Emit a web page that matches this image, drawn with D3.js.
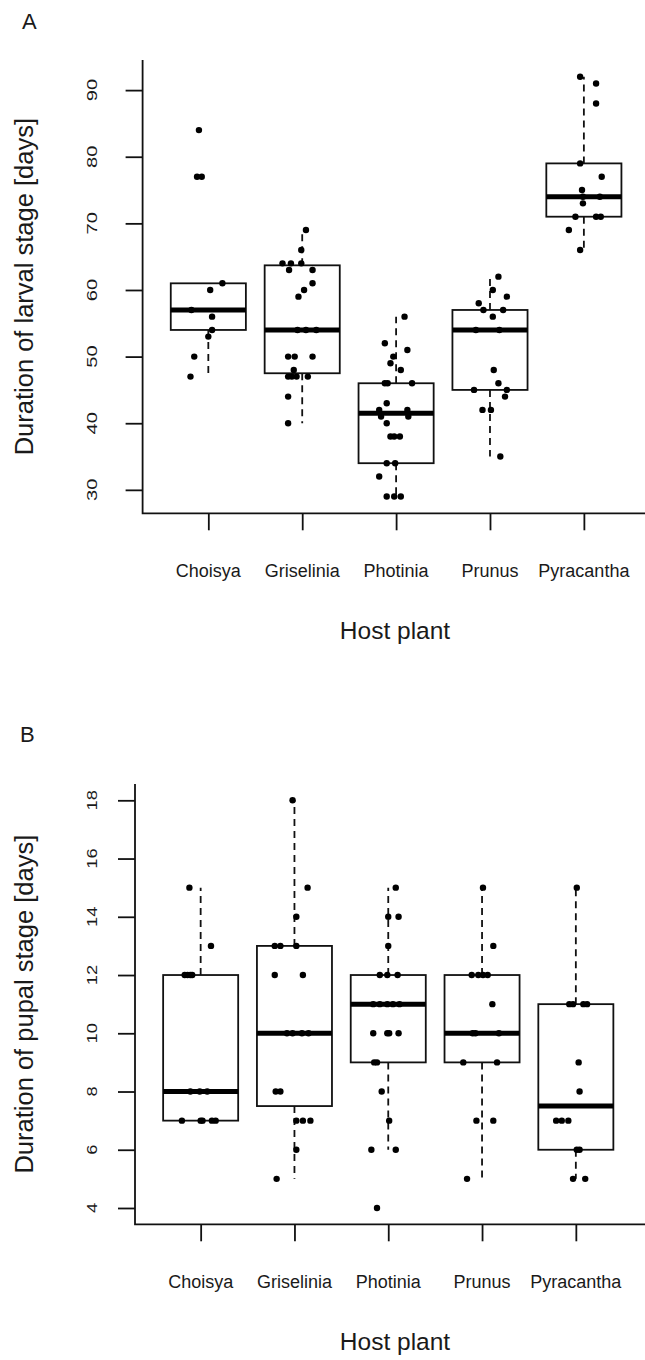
<!DOCTYPE html>
<html>
<head>
<meta charset="utf-8">
<script src="https://cdn.jsdelivr.net/npm/d3@7"></script>
<style>
  html, body { margin: 0; padding: 0; background: #fff; }
  svg { display: block; }
  text { font-family: "Liberation Sans", Arial, sans-serif; fill: #1a1a1a; }
</style>
</head>
<body>
<svg id="chart" width="645" height="1360"></svg>
<script>
// ---------------- DATA ----------------
const categories = ["Choisya", "Griselinia", "Photinia", "Prunus", "Pyracantha"];

// Panel A: duration of larval stage (days)
const larvalTicks = [30, 40, 50, 60, 70, 80, 90];
const larvalQ1 = [54, 47.5, 34, 45, 71];
const larvalMedian = [57, 54, 41.5, 54, 74];
const larvalQ3 = [61, 63.7, 46, 57, 79];
const larvalWhiskerLow = [47, 40, 29, 35, 66];
const larvalWhiskerHigh = [61, 69, 56, 62, 92];
const larvalValues = [
  [84, 77, 77, 61, 60, 57, 56, 54, 53, 50, 47],
  [69, 66, 64, 64, 64, 63, 63, 61, 60, 59, 54, 54, 54, 50, 50, 50, 48, 47, 47, 47, 47, 44, 40],
  [56, 52, 51, 50, 49, 48, 46, 46, 46, 43, 42, 42, 41, 41, 40, 38, 38, 38, 34, 34, 32, 29, 29, 29],
  [62, 60, 59, 58, 57, 57, 56, 54, 54, 48, 46, 45, 45, 44, 42, 42, 35],
  [92, 91, 88, 79, 77, 75, 74, 74, 73, 71, 71, 71, 69, 66]
];
// horizontal jitter of each point, in category units
const larvalJitter = [
  [-0.10, -0.12, -0.07, 0.15, 0.02, -0.18, 0.04, 0.04, 0.00, -0.15, -0.19],
  [0.04, -0.01, -0.21, -0.12, -0.01, -0.14, 0.11, 0.11, 0.02, -0.04, -0.05, 0.04, 0.15, -0.15, -0.08, 0.11, -0.09, -0.15, -0.11, -0.06, 0.06, -0.15, -0.15],
  [0.09, -0.12, 0.12, -0.03, -0.06, 0.05, -0.12, -0.09, 0.17, -0.10, -0.18, 0.12, -0.16, 0.13, -0.10, -0.06, -0.02, 0.04, -0.10, -0.01, -0.18, -0.10, -0.02, 0.05],
  [0.09, 0.03, 0.18, -0.12, -0.07, 0.14, 0.03, -0.15, 0.10, 0.04, 0.09, -0.17, 0.18, 0.16, -0.08, 0.01, 0.11],
  [-0.04, 0.13, 0.13, -0.04, 0.19, -0.02, 0.17, -0.01, -0.01, -0.09, 0.13, 0.18, -0.16, -0.04]
];

// Panel B: duration of pupal stage (days)
const pupalTicks = [4, 6, 8, 10, 12, 14, 16, 18];
const pupalQ1 = [7, 7.5, 9, 9, 6];
const pupalMedian = [8, 10, 11, 10, 7.5];
const pupalQ3 = [12, 13, 12, 12, 11];
const pupalWhiskerLow = [7, 5, 6, 5, 5];
const pupalWhiskerHigh = [15, 18, 15, 15, 15];
const pupalValues = [
  [15, 13, 12, 12, 12, 12, 8, 8, 8, 7, 7, 7, 7, 7],
  [18, 15, 14, 13, 13, 13, 12, 12, 10, 10, 10, 10, 8, 8, 7, 7, 7, 6, 5],
  [15, 14, 14, 13, 12, 12, 12, 11, 11, 11, 11, 11, 10, 10, 10, 10, 9, 9, 8, 7, 6, 6, 4],
  [15, 13, 12, 12, 12, 12, 11, 10, 10, 10, 9, 9, 7, 7, 5],
  [15, 11, 11, 11, 11, 9, 8, 7, 7, 7, 6, 6, 5, 5]
];
const pupalJitter = [
  [-0.12, 0.11, -0.17, -0.14, -0.11, -0.09, -0.11, -0.01, 0.07, -0.20, 0.00, 0.02, 0.12, 0.16],
  [-0.02, 0.14, 0.02, -0.21, -0.15, 0.02, -0.21, 0.09, -0.08, -0.02, 0.08, 0.15, -0.20, -0.15, 0.02, 0.09, 0.17, 0.02, -0.19],
  [0.08, 0.00, 0.11, 0.00, -0.09, -0.01, 0.10, -0.16, -0.09, -0.01, 0.05, 0.12, -0.16, -0.01, 0.01, 0.11, -0.15, -0.12, -0.07, 0.01, -0.18, 0.08, -0.12],
  [0.01, 0.12, -0.11, -0.04, 0.01, 0.06, 0.11, -0.10, -0.07, 0.18, -0.20, 0.16, -0.06, 0.12, -0.16],
  [0.01, -0.07, -0.03, 0.08, 0.12, 0.03, 0.04, -0.21, -0.15, -0.08, 0.01, 0.04, -0.03, 0.10]
];

// ---------------- DRAWING ----------------
const svg = d3.select("#chart");
svg.append("rect").attr("width", 645).attr("height", 1360).attr("fill", "#fff");

function panel(cfg) {
  const g = svg.append("g");
  const x = d3.scaleLinear().domain([0.3, 5.7]).range([cfg.left, cfg.right]);
  const y = d3.scaleLinear().domain(cfg.yDomain).range([cfg.bottom, cfg.top]);
  const lw = 1.8;
  const boxHalf = 0.4;

  // L-shaped frame
  g.append("path")
    .attr("d", `M${cfg.left},${cfg.top}V${cfg.bottom}H${cfg.right + 10}`)
    .attr("fill", "none").attr("stroke", "#111").attr("stroke-width", lw);

  // y axis ticks (d3 axis)
  const yAxis = d3.axisLeft(y).tickValues(cfg.ticks).tickSize(17).tickFormat("");
  const ya = g.append("g").attr("transform", `translate(${cfg.left},0)`).call(yAxis);
  ya.select(".domain").remove();
  ya.selectAll(".tick line").attr("stroke", "#111").attr("stroke-width", lw);

  // y tick labels (rotated, R style)
  g.selectAll(".ylab").data(cfg.ticks).enter().append("text")
    .attr("class", "ylab")
    .attr("transform", d => `translate(97,${y(d)}) scale(1,${cfg.labStretch}) rotate(-90)`)
    .attr("text-anchor", "middle")
    .style("font-size", "15.5px")
    .text(d => d);

  // x axis ticks
  const xAxis = d3.axisBottom(x).tickValues([1, 2, 3, 4, 5]).tickSize(17).tickFormat("");
  const xa = g.append("g").attr("transform", `translate(0,${cfg.bottom})`).call(xAxis);
  xa.select(".domain").remove();
  xa.selectAll(".tick line").attr("stroke", "#111").attr("stroke-width", lw);

  // category labels
  g.selectAll(".xlab").data(categories).enter().append("text")
    .attr("class", "xlab")
    .attr("x", (d, i) => x(i + 1))
    .attr("y", cfg.bottom + 64)
    .attr("text-anchor", "middle")
    .style("font-size", "18px")
    .text(d => d);

  // axis titles
  g.append("text")
    .attr("x", 395).attr("y", cfg.bottom + 126)
    .attr("text-anchor", "middle")
    .style("font-size", "24.5px")
    .text("Host plant");
  g.append("text")
    .attr("transform", `translate(33,${(cfg.top + cfg.bottom) / 2}) rotate(-90)`)
    .attr("text-anchor", "middle")
    .style("font-size", "25.5px")
    .text(cfg.yTitle);

  // panel letter
  g.append("text")
    .attr("x", cfg.letterX).attr("y", cfg.letterY)
    .style("font-size", "22px")
    .text(cfg.letter);

  // boxes
  const idx = d3.range(categories.length);
  const boxes = g.append("g");
  idx.forEach(i => {
    const cx = x(i + 1);
    const x0 = x(i + 1 - boxHalf), x1 = x(i + 1 + boxHalf);
    // whiskers
    if (cfg.wHi[i] > cfg.q3[i]) {
      boxes.append("line").attr("x1", cx).attr("x2", cx)
        .attr("y1", y(cfg.q3[i])).attr("y2", y(cfg.wHi[i]))
        .attr("stroke", "#111").attr("stroke-width", lw).attr("stroke-dasharray", "7,5");
    }
    if (cfg.wLo[i] < cfg.q1[i]) {
      boxes.append("line").attr("x1", cx).attr("x2", cx)
        .attr("y1", y(cfg.q1[i])).attr("y2", y(cfg.wLo[i]))
        .attr("stroke", "#111").attr("stroke-width", lw).attr("stroke-dasharray", "7,5");
    }
    boxes.append("rect")
      .attr("x", x0).attr("y", y(cfg.q3[i]))
      .attr("width", x1 - x0).attr("height", y(cfg.q1[i]) - y(cfg.q3[i]))
      .attr("fill", "none").attr("stroke", "#111").attr("stroke-width", lw);
    boxes.append("line")
      .attr("x1", x0).attr("x2", x1)
      .attr("y1", y(cfg.med[i])).attr("y2", y(cfg.med[i]))
      .attr("stroke", "#000").attr("stroke-width", 5);
  });

  // jittered points
  const pts = [];
  idx.forEach(i => cfg.values[i].forEach((v, j) => pts.push({ c: i + 1, v: v, dx: cfg.jitter[i][j] })));
  g.append("g").selectAll("circle").data(pts).enter().append("circle")
    .attr("cx", d => x(d.c + d.dx))
    .attr("cy", d => y(d.v))
    .attr("r", 3.2)
    .attr("fill", "#000");
}

panel({
  left: 142.6, right: 649.6, top: 60, bottom: 513.3,
  yDomain: [26.48, 94.52], ticks: larvalTicks, labStretch: 1.3,
  q1: larvalQ1, med: larvalMedian, q3: larvalQ3, wLo: larvalWhiskerLow, wHi: larvalWhiskerHigh,
  values: larvalValues, jitter: larvalJitter,
  yTitle: "Duration of larval stage [days]",
  letter: "A", letterX: 22, letterY: 29
});

panel({
  left: 135, right: 641.5, top: 784, bottom: 1224.3,
  yDomain: [3.44, 18.56], ticks: pupalTicks, labStretch: 1.18,
  q1: pupalQ1, med: pupalMedian, q3: pupalQ3, wLo: pupalWhiskerLow, wHi: pupalWhiskerHigh,
  values: pupalValues, jitter: pupalJitter,
  yTitle: "Duration of pupal stage [days]",
  letter: "B", letterX: 20, letterY: 742
});
</script>
</body>
</html>
